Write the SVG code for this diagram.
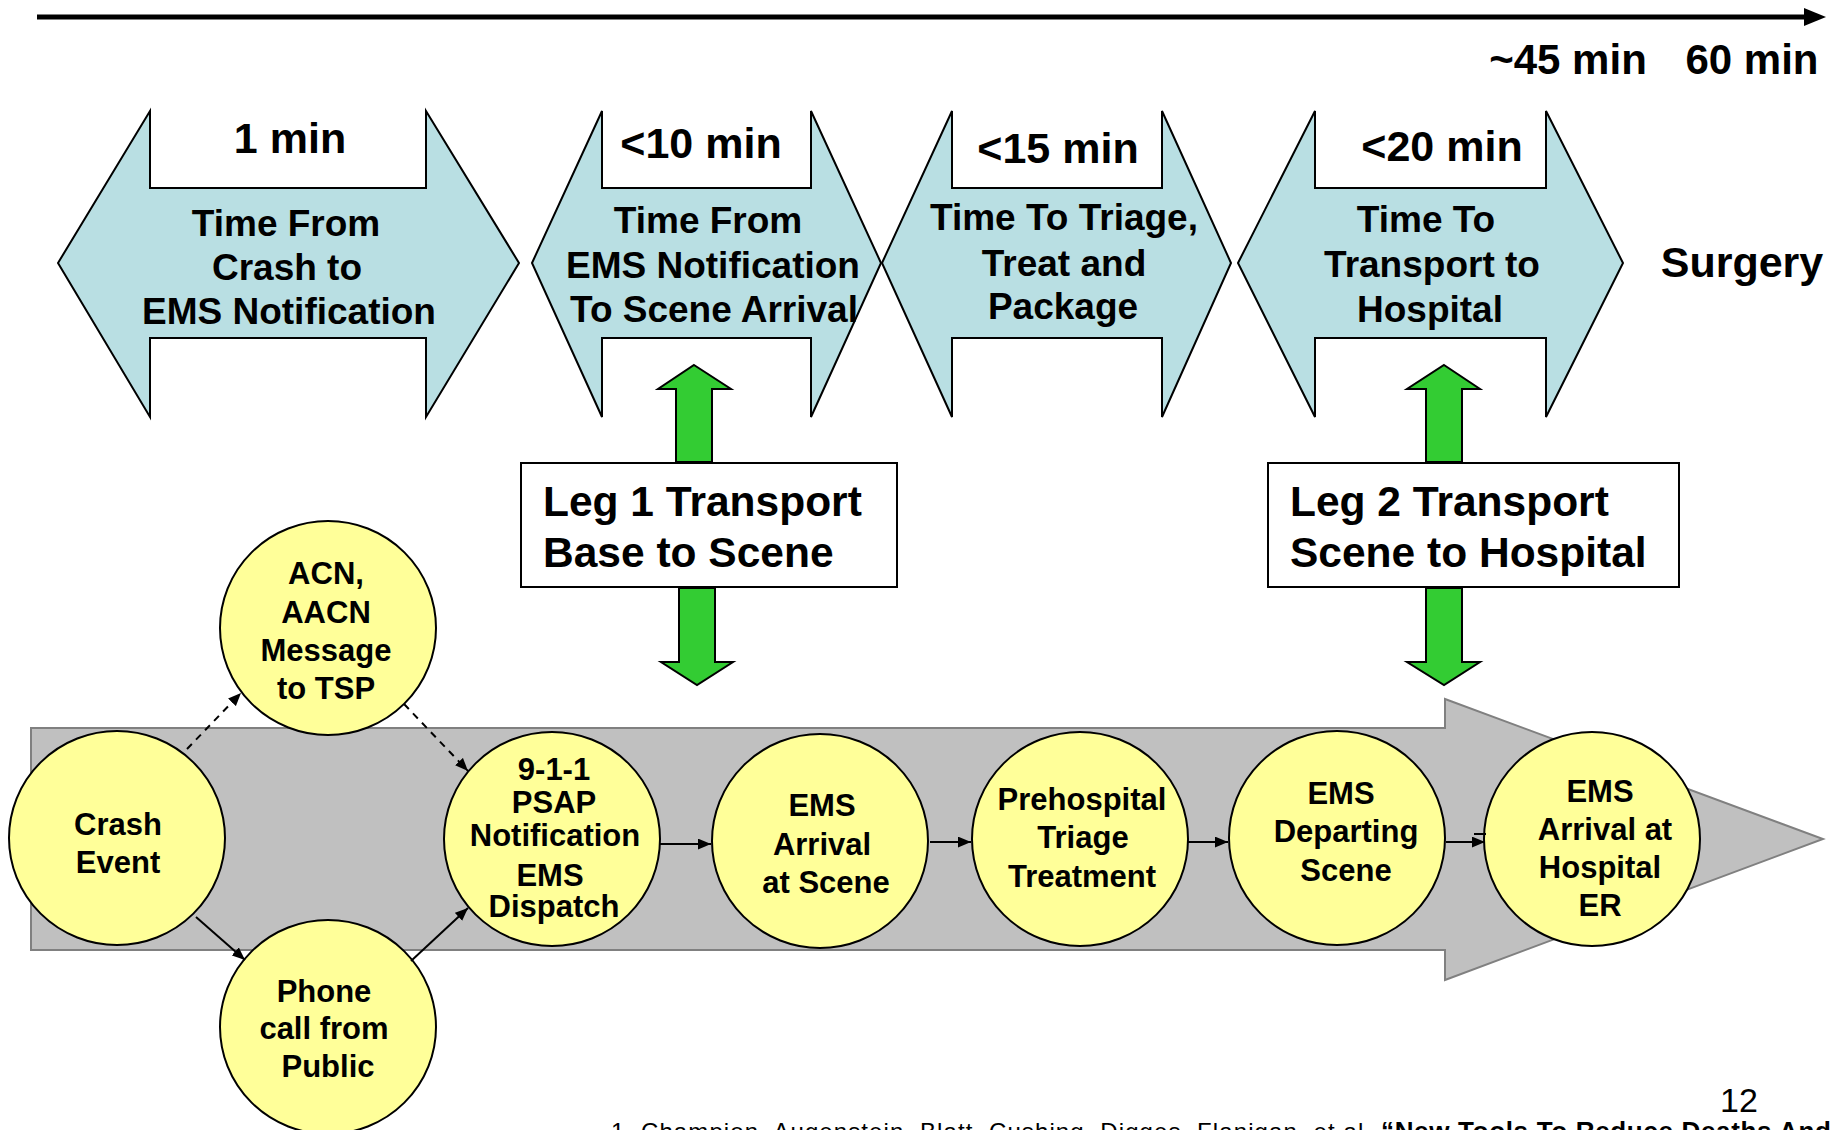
<svg xmlns="http://www.w3.org/2000/svg" width="1835" height="1130" viewBox="0 0 1835 1130">
<defs>
<style>
text{font-family:"Liberation Sans",Arial,sans-serif;font-weight:bold;fill:#000}
.phase{fill:#B9DFE3;stroke:#000;stroke-width:2;stroke-linejoin:miter}
.mins{font-size:43px;text-anchor:middle}
.body{font-size:37px;text-anchor:middle}
.green{fill:#33CC33;stroke:#000;stroke-width:2}
.box{fill:#fff;stroke:#000;stroke-width:2}
.leg{font-size:42.5px}
.node{fill:#FFFF99;stroke:#000;stroke-width:2}
.nt{font-size:31px;text-anchor:middle}
.conn{stroke:#000;stroke-width:2;fill:none}
.dash{stroke-dasharray:7,6}
</style>
<marker id="ah" viewBox="0 0 12 10" refX="12" refY="5" markerWidth="13" markerHeight="11" markerUnits="userSpaceOnUse" orient="auto">
<path d="M0,0 L12,5 L0,10 Z" fill="#000"/>
</marker>
</defs>
<rect width="1835" height="1130" fill="#fff"/>

<g id="timeline">
<line x1="37" y1="17" x2="1808" y2="17" stroke="#000" stroke-width="5"/>
<path d="M1804,8 L1826,17 L1804,26 Z" fill="#000"/>
<text x="1568" y="74" font-size="42" text-anchor="middle">~45 min</text>
<text x="1752" y="74" font-size="42" text-anchor="middle">60 min</text>
</g>

<g id="phase1">
<path class="phase" d="M58,263 L150,111 L150,188 L426,188 L426,111 L519,263 L426,417 L426,338 L150,338 L150,417 Z"/>
<text class="mins" x="290" y="153">1 min</text>
<text class="body" x="286" y="236">Time From</text>
<text class="body" x="287" y="280">Crash to</text>
<text class="body" x="289" y="324">EMS Notification</text>
</g>

<g id="phase2">
<path class="phase" d="M532,263 L602,111 L602,188 L811,188 L811,111 L881,263 L811,417 L811,338 L602,338 L602,417 Z"/>
<text class="mins" x="701" y="158">&lt;10 min</text>
<text class="body" x="708" y="233">Time From</text>
<text class="body" x="713" y="278">EMS Notification</text>
<text class="body" x="714" y="322">To Scene Arrival</text>
</g>

<g id="phase3">
<path class="phase" d="M882,263 L952,111 L952,188 L1162,188 L1162,111 L1231,263 L1162,417 L1162,338 L952,338 L952,417 Z"/>
<text class="mins" x="1058" y="163">&lt;15 min</text>
<text class="body" x="1064" y="230">Time To Triage,</text>
<text class="body" x="1064" y="276">Treat and</text>
<text class="body" x="1063" y="319">Package</text>
</g>

<g id="phase4">
<path class="phase" d="M1238,263 L1315,111 L1315,188 L1546,188 L1546,111 L1623,263 L1546,417 L1546,338 L1315,338 L1315,417 Z"/>
<text class="mins" x="1442" y="161">&lt;20 min</text>
<text class="body" x="1426" y="232">Time To</text>
<text class="body" x="1432" y="277">Transport to</text>
<text class="body" x="1430" y="322">Hospital</text>
</g>

<g id="surgery">
<text x="1742" y="277" font-size="43" text-anchor="middle">Surgery</text>
</g>

<g id="leg1">
<path class="green" d="M694,365 L731,389 L712,389 L712,462 L676,462 L676,389 L658,389 Z"/>
<path class="green" d="M679,588 L715,588 L715,662 L733,662 L697,685 L661,662 L679,662 Z"/>
<rect class="box" x="521" y="463" width="376" height="124"/>
<text class="leg" x="543" y="516">Leg 1 Transport</text>
<text class="leg" x="543" y="567">Base to Scene</text>
</g>

<g id="leg2">
<path class="green" d="M1444,365 L1480,389 L1462,389 L1462,462 L1426,462 L1426,389 L1407,389 Z"/>
<path class="green" d="M1426,588 L1462,588 L1462,662 L1480,662 L1444,685 L1407,662 L1426,662 Z"/>
<rect class="box" x="1268" y="463" width="411" height="124"/>
<text class="leg" x="1290" y="516">Leg 2 Transport</text>
<text class="leg" x="1290" y="567">Scene to Hospital</text>
</g>

<g id="process-arrow">
<path d="M31,728 L1445,728 L1445,699 L1823,839 L1445,980 L1445,950 L31,950 Z" fill="#C0C0C0" stroke="#808080" stroke-width="2"/>
</g>

<g id="crash">
<ellipse class="node" cx="117" cy="838" rx="108" ry="107"/>
<text class="nt" x="118" y="835">Crash</text>
<text class="nt" x="118" y="873">Event</text>
</g>

<g id="acn">
<ellipse class="node" cx="328" cy="628" rx="108" ry="107"/>
<text class="nt" x="326" y="584">ACN,</text>
<text class="nt" x="326" y="623">AACN</text>
<text class="nt" x="326" y="661">Message</text>
<text class="nt" x="326" y="699">to TSP</text>
</g>

<g id="phone">
<ellipse class="node" cx="328" cy="1027" rx="108" ry="107"/>
<text class="nt" x="324" y="1002">Phone</text>
<text class="nt" x="324" y="1039">call from</text>
<text class="nt" x="328" y="1077">Public</text>
</g>

<g id="psap">
<ellipse class="node" cx="552" cy="839" rx="108" ry="107"/>
<text class="nt" x="554" y="780" font-size="29.5">9-1-1</text>
<text class="nt" x="554" y="813" font-size="29.5">PSAP</text>
<text class="nt" x="555" y="846" font-size="29.5">Notification</text>
<text class="nt" x="550" y="886" font-size="29.5">EMS</text>
<text class="nt" x="554" y="917" font-size="29.5">Dispatch</text>
</g>

<g id="ems-arrival">
<ellipse class="node" cx="820" cy="841" rx="108" ry="107"/>
<text class="nt" x="822" y="816">EMS</text>
<text class="nt" x="822" y="855">Arrival</text>
<text class="nt" x="826" y="893">at Scene</text>
</g>

<g id="prehospital">
<ellipse class="node" cx="1080" cy="839" rx="108" ry="107"/>
<text class="nt" x="1082" y="810">Prehospital</text>
<text class="nt" x="1083" y="848">Triage</text>
<text class="nt" x="1082" y="887">Treatment</text>
</g>

<g id="departing">
<ellipse class="node" cx="1337" cy="838" rx="108" ry="107"/>
<text class="nt" x="1341" y="804">EMS</text>
<text class="nt" x="1346" y="842">Departing</text>
<text class="nt" x="1346" y="881">Scene</text>
</g>

<g id="hospital">
<ellipse class="node" cx="1592" cy="839" rx="108" ry="107"/>
<text class="nt" x="1600" y="802">EMS</text>
<text class="nt" x="1605" y="840">Arrival at</text>
<text class="nt" x="1600" y="878">Hospital</text>
<text class="nt" x="1600" y="916">ER</text>
</g>

<g id="connectors">
<line class="conn dash" x1="187" y1="749" x2="241" y2="693" marker-end="url(#ah)"/>
<line class="conn dash" x1="404" y1="704" x2="468" y2="771" marker-end="url(#ah)"/>
<line class="conn" x1="196" y1="917" x2="245" y2="960" marker-end="url(#ah)"/>
<line class="conn" x1="411" y1="961" x2="468" y2="908" marker-end="url(#ah)"/>
<line class="conn" x1="659" y1="844" x2="711" y2="844" marker-end="url(#ah)"/>
<line class="conn" x1="930" y1="842" x2="971" y2="842" marker-end="url(#ah)"/>
<line class="conn" x1="1187" y1="842" x2="1228" y2="842" marker-end="url(#ah)"/>
<line class="conn" x1="1446" y1="842" x2="1485" y2="842" marker-end="url(#ah)"/>
<line class="conn" x1="1474" y1="834" x2="1486" y2="834"/>
</g>

<g id="footer">
<text x="1739" y="1112" font-size="34" text-anchor="middle" style="font-weight:normal">12</text>
<text x="611" y="1140" font-size="24" style="font-weight:normal" textLength="760" lengthAdjust="spacing">1. Champion, Augenstein, Blatt, Cushing, Digges, Flanigan, et al.</text>
<text x="1381" y="1140" font-size="26" textLength="450" lengthAdjust="spacing">“New Tools To Reduce Deaths And</text>
</g>
</svg>
